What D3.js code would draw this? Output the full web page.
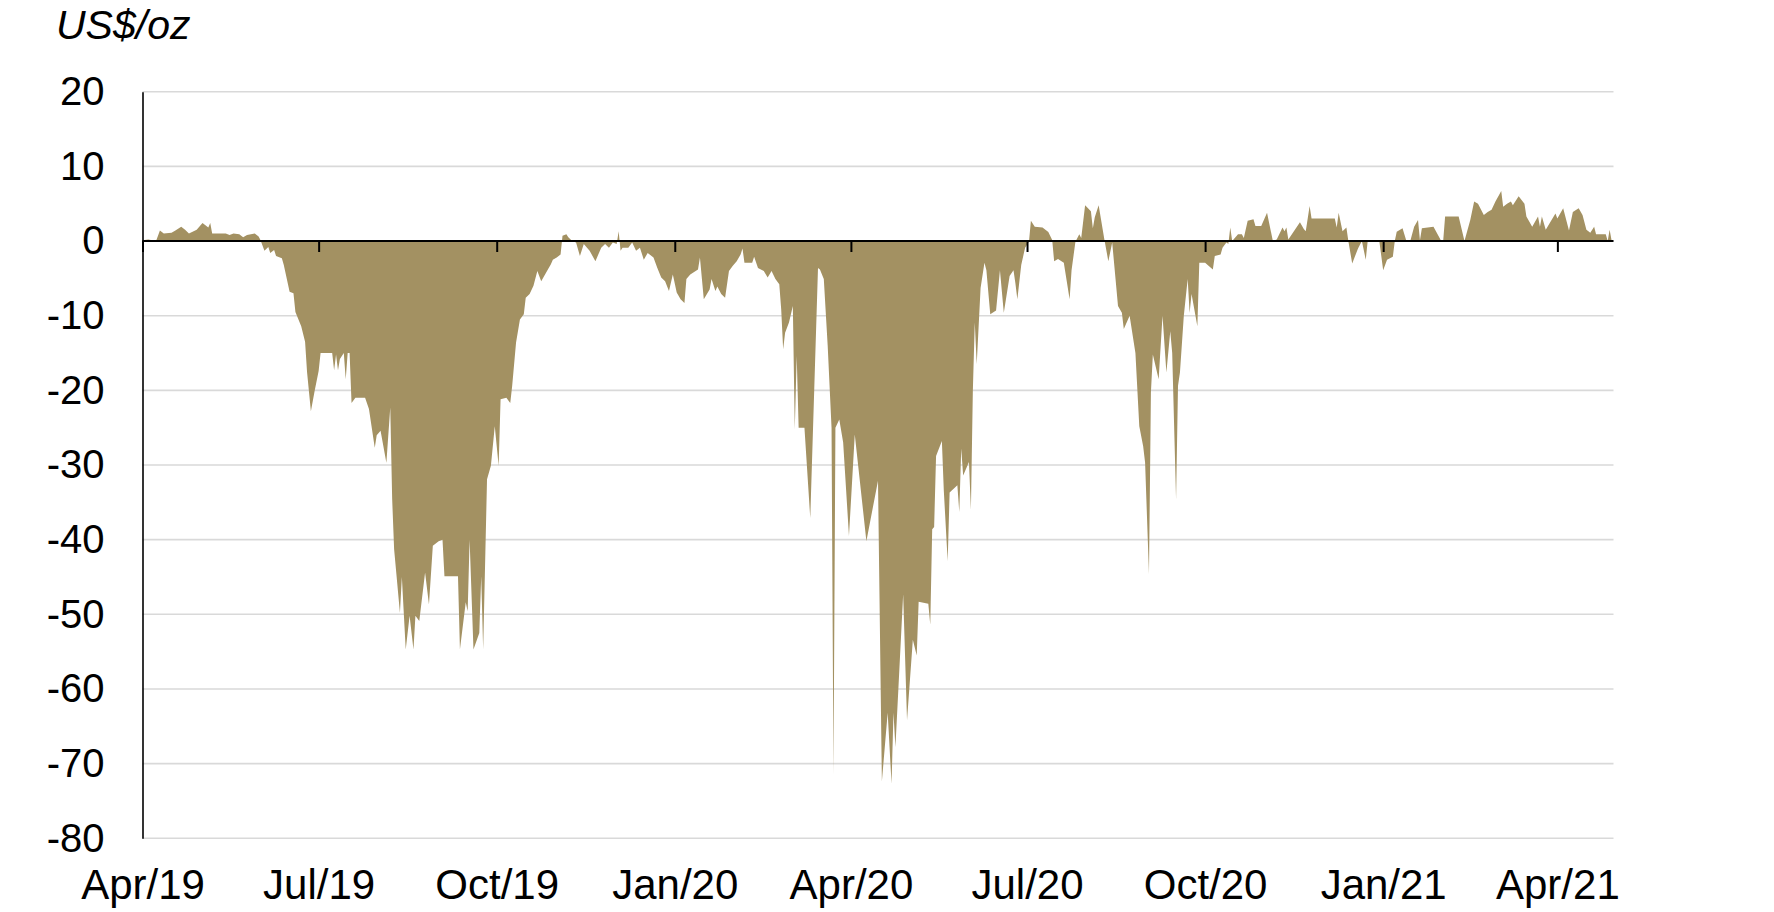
<!DOCTYPE html>
<html><head><meta charset="utf-8">
<script src="https://cdn.jsdelivr.net/npm/d3@7"></script>
<style>html,body{margin:0;padding:0;background:#fff;} svg{display:block;font-family:"Liberation Sans",Arial,sans-serif;}</style>
</head><body>
<svg id="chart" width="1774" height="912"></svg>
<script>
const unitLabel = "US$/oz";
const yTicks = [20, 10, 0, -10, -20, -30, -40, -50, -60, -70, -80];
const xTickDates = ["2019-04-01","2019-07-01","2019-10-01","2020-01-01","2020-04-01","2020-07-01","2020-10-01","2021-01-01","2021-04-01"];
const xTickLabels = ["Apr/19","Jul/19","Oct/19","Jan/20","Apr/20","Jul/20","Oct/20","Jan/21","Apr/21"];
const xDomain = ["2019-04-01","2021-04-30"];

const dates = [
"2019-04-01","2019-04-04","2019-04-08","2019-04-10","2019-04-12","2019-04-16","2019-04-18","2019-04-21","2019-04-23","2019-04-25","2019-04-29",
"2019-05-02","2019-05-05","2019-05-06","2019-05-07","2019-05-14","2019-05-16","2019-05-18","2019-05-21","2019-05-23","2019-05-25","2019-05-29","2019-05-31",
"2019-06-01","2019-06-03","2019-06-05","2019-06-06","2019-06-08","2019-06-09","2019-06-12","2019-06-13","2019-06-16","2019-06-18","2019-06-19","2019-06-22","2019-06-24","2019-06-25","2019-06-27","2019-06-29",
"2019-07-01","2019-07-02","2019-07-08","2019-07-09","2019-07-10","2019-07-11","2019-07-12","2019-07-14","2019-07-15","2019-07-16","2019-07-17","2019-07-18","2019-07-20","2019-07-25","2019-07-27","2019-07-30","2019-07-31",
"2019-08-02","2019-08-05","2019-08-07","2019-08-08","2019-08-09","2019-08-12","2019-08-13","2019-08-15","2019-08-17","2019-08-19","2019-08-20","2019-08-22","2019-08-25","2019-08-27","2019-08-29",
"2019-09-01","2019-09-03","2019-09-04","2019-09-11","2019-09-12","2019-09-15","2019-09-16","2019-09-17","2019-09-19","2019-09-22","2019-09-23","2019-09-24","2019-09-26","2019-09-28","2019-09-30",
"2019-10-02","2019-10-03","2019-10-06","2019-10-08","2019-10-09","2019-10-11","2019-10-13","2019-10-15","2019-10-16","2019-10-18","2019-10-20","2019-10-22","2019-10-24","2019-10-27","2019-10-29","2019-10-30",
"2019-11-01","2019-11-03","2019-11-04","2019-11-06","2019-11-07","2019-11-09","2019-11-11","2019-11-13","2019-11-15","2019-11-18","2019-11-21","2019-11-24","2019-11-26","2019-11-28","2019-11-30",
"2019-12-02","2019-12-03","2019-12-04","2019-12-05","2019-12-08","2019-12-10","2019-12-12","2019-12-14","2019-12-16","2019-12-18","2019-12-21","2019-12-23","2019-12-25","2019-12-27","2019-12-29","2019-12-31",
"2020-01-02","2020-01-04","2020-01-06","2020-01-07","2020-01-09","2020-01-13","2020-01-14","2020-01-16","2020-01-19","2020-01-20","2020-01-22","2020-01-23","2020-01-25","2020-01-27","2020-01-29","2020-01-31",
"2020-02-02","2020-02-04","2020-02-05","2020-02-06","2020-02-10","2020-02-11","2020-02-13","2020-02-16","2020-02-18","2020-02-20","2020-02-22","2020-02-24","2020-02-25","2020-02-26","2020-02-27","2020-02-29",
"2020-03-02","2020-03-03","2020-03-04","2020-03-05","2020-03-08","2020-03-11","2020-03-15","2020-03-16","2020-03-18","2020-03-20","2020-03-22","2020-03-23","2020-03-24","2020-03-26","2020-03-28","2020-03-31",
"2020-04-03","2020-04-09","2020-04-15","2020-04-17","2020-04-20","2020-04-22","2020-04-23","2020-04-24","2020-04-28","2020-04-30",
"2020-05-03","2020-05-05","2020-05-06","2020-05-11","2020-05-12","2020-05-13","2020-05-14","2020-05-15","2020-05-18","2020-05-19","2020-05-21","2020-05-22","2020-05-26","2020-05-27","2020-05-28","2020-05-29",
"2020-06-01","2020-06-02","2020-06-03","2020-06-04","2020-06-05","2020-06-07","2020-06-09","2020-06-10","2020-06-12","2020-06-15","2020-06-17","2020-06-19","2020-06-22","2020-06-24","2020-06-25","2020-06-26","2020-06-28","2020-06-30",
"2020-07-02","2020-07-03","2020-07-05","2020-07-09","2020-07-12","2020-07-14","2020-07-15","2020-07-17","2020-07-20","2020-07-23","2020-07-24","2020-07-26","2020-07-28","2020-07-29","2020-07-31",
"2020-08-03","2020-08-04","2020-08-05","2020-08-07","2020-08-10","2020-08-12","2020-08-14","2020-08-17","2020-08-19","2020-08-20","2020-08-23","2020-08-26","2020-08-28","2020-08-30","2020-08-31",
"2020-09-02","2020-09-03","2020-09-04","2020-09-07","2020-09-09","2020-09-11","2020-09-13","2020-09-14","2020-09-16","2020-09-17","2020-09-18","2020-09-20","2020-09-22","2020-09-23","2020-09-24","2020-09-27","2020-09-28",
"2020-10-01","2020-10-05","2020-10-06","2020-10-09","2020-10-10","2020-10-12","2020-10-13","2020-10-14","2020-10-15","2020-10-18","2020-10-20","2020-10-21","2020-10-23","2020-10-26","2020-10-27","2020-10-30",
"2020-11-02","2020-11-05","2020-11-07","2020-11-10","2020-11-11","2020-11-12","2020-11-13","2020-11-19","2020-11-21","2020-11-22","2020-11-24","2020-11-25","2020-11-29",
"2020-12-07","2020-12-08","2020-12-09","2020-12-11","2020-12-13","2020-12-14","2020-12-16","2020-12-19","2020-12-21","2020-12-23","2020-12-24","2020-12-30",
"2021-01-01","2021-01-03","2021-01-06","2021-01-07","2021-01-08","2021-01-11","2021-01-13","2021-01-15","2021-01-17","2021-01-19","2021-01-20","2021-01-21","2021-01-27","2021-01-31",
"2021-02-01","2021-02-02","2021-02-04","2021-02-09","2021-02-12","2021-02-15","2021-02-17","2021-02-19","2021-02-22","2021-02-24","2021-02-26","2021-02-28",
"2021-03-03","2021-03-04","2021-03-06","2021-03-08","2021-03-09","2021-03-12","2021-03-15","2021-03-16","2021-03-19","2021-03-22","2021-03-23","2021-03-24","2021-03-26","2021-03-29","2021-03-31",
"2021-04-01","2021-04-04","2021-04-07","2021-04-09","2021-04-12","2021-04-14","2021-04-16","2021-04-18","2021-04-20","2021-04-21","2021-04-26","2021-04-27","2021-04-28","2021-04-29"
];

const values = [
0.1,0.2,0.0,1.4,1.0,1.1,1.4,1.9,1.5,1.0,1.5,
2.4,1.8,2.4,1.0,1.0,0.8,1.0,0.9,0.5,0.8,1.0,0.6,
0.1,-1.3,-0.8,-1.6,-1.2,-2.0,-2.3,-3.2,-6.8,-7.0,-9.5,-11.4,-13.5,-17.5,-22.8,-20.0,
-17.4,-15.0,-15.0,-17.3,-15.2,-17.3,-15.8,-15.0,-18.5,-15.0,-15.0,-21.7,-21.0,-21.0,-22.5,-27.7,-26.0,
-25.4,-29.7,-22.3,-34.6,-41.3,-49.8,-45.0,-54.7,-50.2,-54.7,-50.2,-50.9,-44.4,-48.7,-40.8,
-40.2,-40.0,-44.9,-44.9,-54.7,-48.4,-49.6,-40.0,-54.7,-52.5,-44.9,-54.7,-31.9,-30.1,-24.8,
-30.1,-21.2,-21.0,-21.7,-19.4,-13.6,-10.5,-9.8,-7.6,-7.1,-6.0,-4.0,-5.4,-4.0,-3.1,-2.5,
-2.2,-1.8,0.7,0.9,0.5,0.0,-0.2,-2.0,-0.4,-1.3,-2.7,-0.9,-0.4,-0.9,-0.2,
-0.4,1.3,-1.3,-0.9,-0.9,-0.2,-1.3,-0.9,-2.5,-1.6,-2.2,-3.6,-4.9,-5.4,-6.7,-4.5,
-6.9,-7.8,-8.3,-5.1,-4.5,-3.8,-2.2,-7.8,-6.5,-5.1,-6.7,-6.1,-7.1,-7.6,-4.0,-3.3,
-2.7,-1.8,-1.0,-2.9,-2.9,-2.1,-3.6,-4.0,-4.9,-4.0,-5.1,-5.8,-9.2,-14.5,-12.3,-10.9,
-8.7,-25.2,-15.4,-25.0,-25.0,-37.1,-3.6,-3.8,-5.1,-14.0,-25.0,-71.5,-25.0,-23.9,-27.0,-39.5,
-25.9,-40.2,-32.1,-72.4,-63.2,-72.7,-63.2,-67.8,-47.3,-64.2,
-53.4,-55.5,-48.3,-48.6,-51.4,-38.6,-38.3,-28.8,-26.8,-33.4,-42.9,-33.7,-32.7,-36.3,-27.8,-31.4,
-29.6,-36.0,-20.1,-10.9,-16.5,-6.3,-2.9,-3.9,-9.8,-9.3,-3.9,-9.6,-4.7,-3.9,-5.7,-7.8,-3.2,-0.9,
-0.1,2.7,1.9,1.8,1.2,0.15,-2.7,-2.4,-2.9,-7.8,-3.9,-0.1,0.9,0.4,4.8,
4.0,1.7,3.2,4.8,0.15,-2.7,-0.2,-8.7,-9.6,-11.8,-10.0,-15.0,-24.8,-27.5,-29.7,
-44.6,-20.3,-15.2,-18.5,-10.0,-17.6,-12.1,-15.0,-34.6,-19.4,-17.6,-10.0,-5.1,-9.6,-7.1,-11.4,-2.9,
-2.9,-3.8,-2.0,-1.8,-0.9,-0.2,-0.4,1.8,0.0,0.9,0.9,0.4,2.7,2.9,2.0,2.0,
3.8,0.0,0.2,1.8,1.3,1.8,0.2,2.5,1.6,1.3,4.7,3.0,3.0,
3.0,1.8,3.8,1.3,1.8,0.0,-3.0,-1.0,0.0,-2.5,0.0,0.0,
-3.9,-2.5,-2.1,0.0,1.25,1.7,0.0,0.0,1.9,2.8,0.1,1.7,1.9,0.0,
0.0,3.3,3.3,3.3,0.0,2.8,5.3,5.0,3.5,3.9,4.2,5.3,
6.7,4.6,5.0,5.3,4.8,6.0,5.0,3.3,1.9,3.3,1.9,3.3,1.5,2.8,3.7,
3.0,4.4,1.4,3.9,4.4,3.5,1.5,1.1,1.9,0.9,0.9,0.0,1.5,0.1
];

const parse = d3.timeParse("%Y-%m-%d");
const data = dates.map((d, i) => ({date: parse(d), value: values[i]}));

const svg = d3.select("#chart");
const plotL = 142.5, plotR = 1613.5, plotT = 91.7, plotB = 838.3;

const x = d3.scaleTime().domain(xDomain.map(parse)).range([plotL, plotR]);
const y = d3.scaleLinear().domain([-80, 20]).range([plotB, plotT]);

// gridlines
svg.append("g").selectAll("line").data(yTicks).join("line")
  .attr("x1", plotL).attr("x2", plotR)
  .attr("y1", d => y(d)).attr("y2", d => y(d))
  .attr("stroke", "#d9d9d9").attr("stroke-width", 1.6);

// area
const area = d3.area()
  .x(d => x(d.date))
  .y0(y(0))
  .y1(d => y(d.value));
svg.append("path").datum(data).attr("d", area).attr("fill", "#a39162");

// y axis
const yAxis = d3.axisLeft(y).tickValues(yTicks).tickSize(0).tickPadding(38).tickFormat(d => String(d));
const gy = svg.append("g").attr("transform", `translate(${plotL},0)`).call(yAxis);
gy.select(".domain").attr("stroke", "#000").attr("stroke-width", 1.6);
gy.selectAll("text").attr("font-size", 40).attr("fill", "#000")
  .attr("font-family", '"Liberation Sans", Arial, sans-serif');

// zero line with ticks
const tickDates = xTickDates.map(parse);
const xAxis0 = d3.axisBottom(x).tickValues(tickDates).tickSize(11).tickFormat("");
const g0 = svg.append("g").attr("transform", `translate(0,${y(0)})`).call(xAxis0);
g0.select(".domain").attr("stroke", "#000").attr("stroke-width", 2).attr("d", `M${plotL},0H${plotR}`);
g0.selectAll(".tick line").attr("stroke", "#000").attr("stroke-width", 2);

// bottom labels
const xAxisLab = d3.axisBottom(x).tickValues(tickDates).tickSize(0).tickPadding(0)
  .tickFormat((d, i) => xTickLabels[i]);
const gl = svg.append("g").attr("transform", `translate(0,${plotB})`).call(xAxisLab);
gl.select(".domain").remove();
gl.selectAll("text").attr("font-size", 42).attr("fill", "#000")
  .attr("font-family", '"Liberation Sans", Arial, sans-serif')
  .attr("dy", null).attr("y", 61);

// unit label
svg.append("text").attr("x", 56).attr("y", 39).attr("font-size", 41)
  .attr("font-style", "italic").attr("fill", "#000").text(unitLabel);
</script>
</body></html>
